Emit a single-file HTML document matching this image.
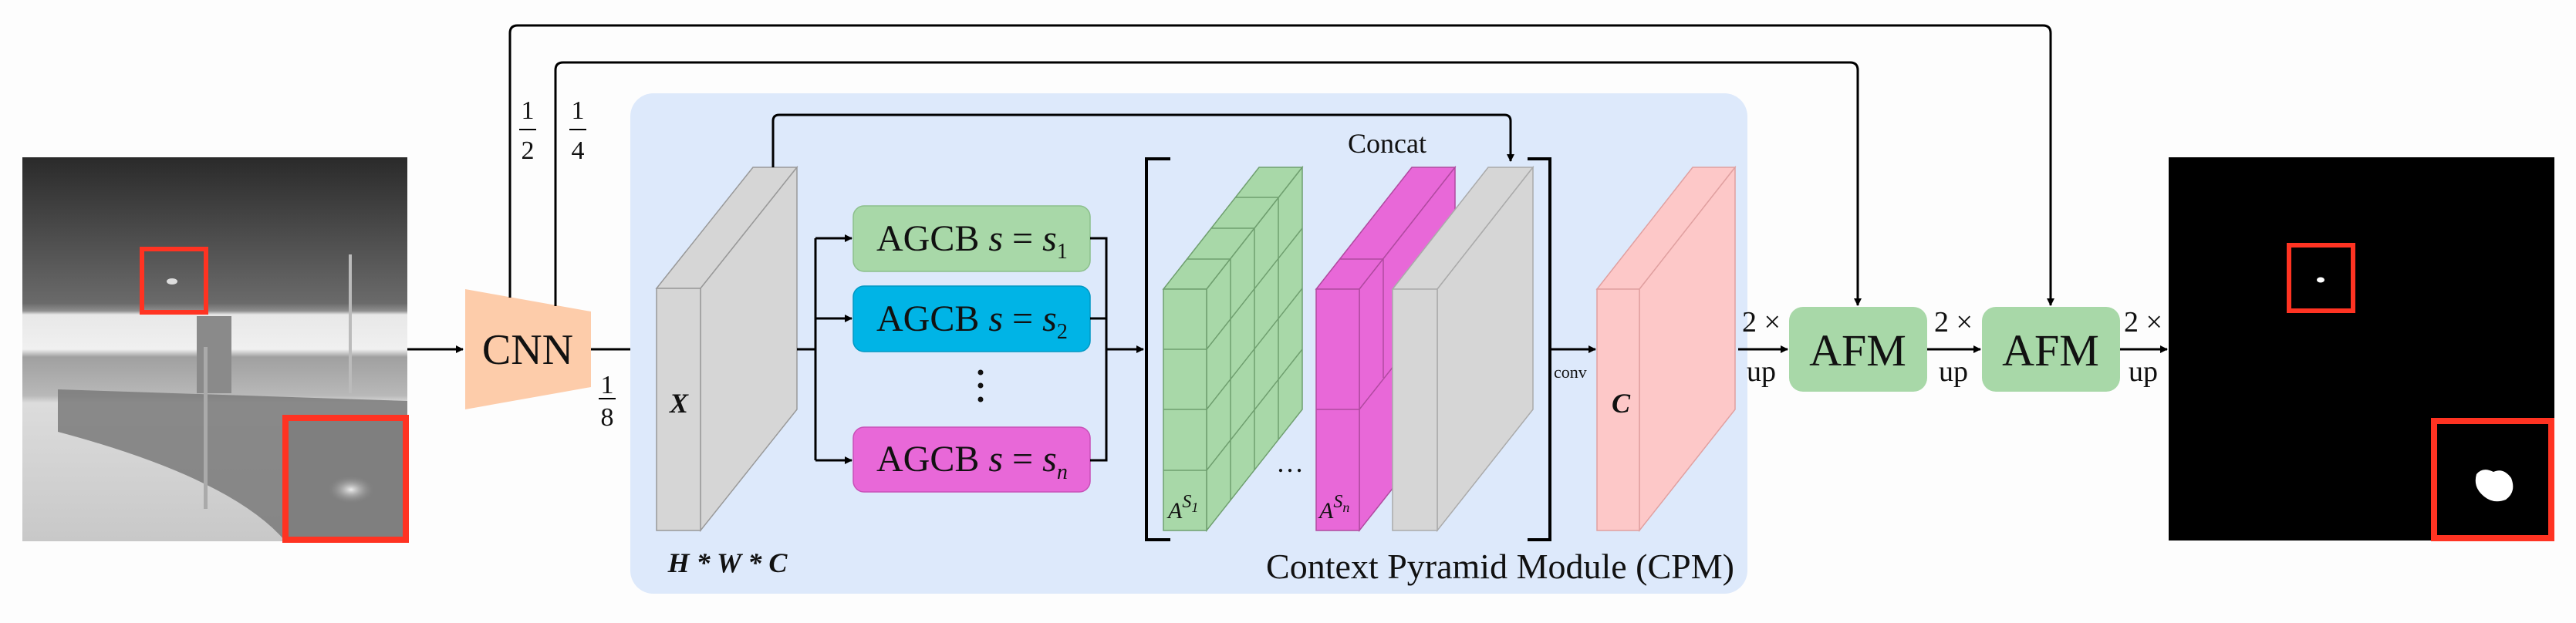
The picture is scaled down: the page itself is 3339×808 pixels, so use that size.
<!DOCTYPE html>
<html><head><meta charset="utf-8"><style>
html,body{margin:0;padding:0;background:#fdfdfd;}
svg{display:block;font-family:"Liberation Serif","Times New Roman",serif;}
svg text{font-family:"Liberation Serif","Times New Roman",serif;fill:#111;}
</style></head><body>
<svg width="3339" height="808" viewBox="0 0 3339 808" xmlns="http://www.w3.org/2000/svg" font-family="Liberation Serif, serif">
<defs>
<marker id="ah" markerWidth="10" markerHeight="10" refX="9" refY="5" orient="auto" markerUnits="userSpaceOnUse" viewBox="0 0 10 10">
<path d="M0,0 L10,5 L0,10 z" fill="#000"/></marker>
<linearGradient id="sky" x1="0" y1="0" x2="0" y2="1">
<stop offset="0" stop-color="#2a2a2a"/><stop offset="0.38" stop-color="#6a6a6a"/><stop offset="0.4" stop-color="#8e8e8e"/>
<stop offset="0.41" stop-color="#e8e8e8"/><stop offset="0.5" stop-color="#f0f0f0"/><stop offset="0.52" stop-color="#a0a0a0"/>
<stop offset="0.62" stop-color="#b8b8b8"/><stop offset="0.64" stop-color="#dcdcdc"/><stop offset="1" stop-color="#c8c8c8"/></linearGradient>
<radialGradient id="blob1"><stop offset="0" stop-color="#eee"/><stop offset="1" stop-color="#888" stop-opacity="0"/></radialGradient>
</defs>
<rect width="3339" height="808" fill="#fdfdfd"/>

<!-- input photo -->
<rect x="29" y="204" width="499" height="498" fill="url(#sky)"/>
<path d="M75,505 L528,520 L528,702 L370,702 Q300,620 75,560 z" fill="#7a7a7a" opacity="0.85"/>
<rect x="255" y="410" width="45" height="100" fill="#8a8a8a"/>
<rect x="264" y="450" width="5" height="210" fill="#aaa"/>
<rect x="452" y="330" width="4" height="180" fill="#bbb"/>
<rect x="184" y="323" width="83" height="82" fill="none" stroke="#ff3322" stroke-width="6"/>
<ellipse cx="223" cy="365" rx="7" ry="4" fill="#ddd"/>
<rect x="370" y="542" width="156" height="158" fill="#7f7f7f" stroke="#ff3322" stroke-width="8"/>
<ellipse cx="455" cy="635" rx="30" ry="18" fill="url(#blob1)"/>

<line x1="528" y1="453" x2="600" y2="453" stroke="#000" stroke-width="3" marker-end="url(#ah)"/>

<!-- CNN -->
<polygon points="603,375 766,404 766,502 603,531" fill="#fdccaa"/>
<text x="684" y="472" font-size="56" text-anchor="middle">CNN</text>
<line x1="766" y1="453" x2="849" y2="453" stroke="#000" stroke-width="3" marker-end="url(#ah)"/>
<text x="787" y="510" font-size="34" text-anchor="middle">1</text>
<line x1="776" y1="517" x2="798" y2="517" stroke="#000" stroke-width="2"/>
<text x="787" y="552" font-size="34" text-anchor="middle">8</text>

<!-- skip lines -->
<path d="M661,386 L661,43 Q661,33 671,33 L2648,33 Q2658,33 2658,43 L2658,396" fill="none" stroke="#000" stroke-width="3" marker-end="url(#ah)"/>
<path d="M720,397 L720,91 Q720,81 730,81 L2398,81 Q2408,81 2408,91 L2408,396" fill="none" stroke="#000" stroke-width="3" marker-end="url(#ah)"/>
<text x="684" y="154" font-size="34" text-anchor="middle">1</text>
<line x1="673" y1="168" x2="695" y2="168" stroke="#000" stroke-width="2"/>
<text x="684" y="206" font-size="34" text-anchor="middle">2</text>
<text x="749" y="154" font-size="34" text-anchor="middle">1</text>
<line x1="738" y1="168" x2="760" y2="168" stroke="#000" stroke-width="2"/>
<text x="749" y="206" font-size="34" text-anchor="middle">4</text>

<!-- CPM panel -->
<rect x="817" y="121" width="1448" height="649" rx="30" fill="#dde9fb"/>

<!-- X block -->
<polygon points="851,374 976,217 1033,217 908,374" fill="#d6d6d6" stroke="#999" stroke-width="1.5"/>
<polygon points="908,374 1033,217 1033,531 908,688" fill="#d6d6d6" stroke="#999" stroke-width="1.5"/>
<rect x="851" y="374" width="57" height="314" fill="#d6d6d6" stroke="#999" stroke-width="1.5"/>
<text x="880" y="535" font-size="36" font-style="italic" font-weight="bold" text-anchor="middle">X</text>
<text x="943" y="742" font-size="36" font-style="italic" font-weight="bold" text-anchor="middle">H * W * C</text>

<path d="M1002,217 L1002,157 Q1002,149 1010,149 L1950,149 Q1958,149 1958,157 L1958,209" fill="none" stroke="#000" stroke-width="3" marker-end="url(#ah)"/>

<!-- branch -->
<line x1="1033" y1="453" x2="1057" y2="453" stroke="#000" stroke-width="3"/>
<line x1="1057" y1="309" x2="1057" y2="597" stroke="#000" stroke-width="3"/>
<line x1="1057" y1="309" x2="1104" y2="309" stroke="#000" stroke-width="3" marker-end="url(#ah)"/>
<line x1="1057" y1="413" x2="1104" y2="413" stroke="#000" stroke-width="3" marker-end="url(#ah)"/>
<line x1="1057" y1="597" x2="1104" y2="597" stroke="#000" stroke-width="3" marker-end="url(#ah)"/>

<!-- AGCB boxes -->
<rect x="1106" y="267" width="307" height="85" rx="14" fill="#a8d8a8" stroke="#8cbf8c" stroke-width="1.5"/>
<rect x="1106" y="371" width="307" height="85" rx="14" fill="#00b4e6" stroke="#0098c4" stroke-width="1.5"/>
<rect x="1106" y="554" width="307" height="84" rx="14" fill="#e868d8" stroke="#c850b8" stroke-width="1.5"/>
<text x="1136" y="325" font-size="48">AGCB <tspan font-style="italic">s</tspan> = <tspan font-style="italic">s</tspan><tspan font-size="28" dy="10">1</tspan></text>
<text x="1136" y="429" font-size="48">AGCB <tspan font-style="italic">s</tspan> = <tspan font-style="italic">s</tspan><tspan font-size="28" dy="10">2</tspan></text>
<text x="1136" y="611" font-size="48">AGCB <tspan font-style="italic">s</tspan> = <tspan font-style="italic">s</tspan><tspan font-size="28" font-style="italic" dy="10">n</tspan></text>
<circle cx="1271" cy="483" r="3.5" fill="#111"/><circle cx="1271" cy="500" r="3.5" fill="#111"/><circle cx="1271" cy="518" r="3.5" fill="#111"/>

<polyline points="1413,309 1434,309 1434,597 1413,597" fill="none" stroke="#000" stroke-width="3"/>
<line x1="1413" y1="413" x2="1434" y2="413" stroke="#000" stroke-width="3"/>
<line x1="1434" y1="453" x2="1482" y2="453" stroke="#000" stroke-width="3" marker-end="url(#ah)"/>

<!-- brackets -->
<polyline points="1517,206 1486,206 1486,700 1517,700" fill="none" stroke="#000" stroke-width="4"/>
<polyline points="1980,206 2009,206 2009,700 1980,700" fill="none" stroke="#000" stroke-width="4"/>
<text x="1798" y="198" font-size="36" text-anchor="middle">Concat</text>

<!-- green grid block -->
<g stroke="#6f9f6f" stroke-width="1.5" fill="#a8d8a8">
<polygon points="1508,375 1632,217 1688,217 1564,375"/>
<polygon points="1564,375 1688,217 1688,531 1564,688"/>
<rect x="1508" y="375" width="56" height="313"/>
</g>
<g stroke="#6f9f6f" stroke-width="1.5" fill="none">
<line x1="1508" y1="453" x2="1564" y2="453"/><line x1="1508" y1="531" x2="1564" y2="531"/><line x1="1508" y1="610" x2="1564" y2="610"/>
<line x1="1564" y1="453" x2="1688" y2="296"/><line x1="1564" y1="531" x2="1688" y2="374"/><line x1="1564" y1="610" x2="1688" y2="453"/>
<line x1="1595" y1="336" x2="1595" y2="649"/><line x1="1626" y1="296" x2="1626" y2="610"/><line x1="1657" y1="256" x2="1657" y2="570"/>
<line x1="1539" y1="336" x2="1595" y2="336"/><line x1="1570" y1="296" x2="1626" y2="296"/><line x1="1601" y1="256" x2="1657" y2="256"/>
</g>
<text x="1514" y="672" font-size="30" font-style="italic">A<tspan font-size="24" dy="-14">S</tspan><tspan font-size="18" dy="6">1</tspan></text>
<text x="1672" y="612" font-size="36" text-anchor="middle">…</text>

<!-- pink block -->
<g stroke="#b04aa0" stroke-width="1.5" fill="#e868d8">
<polygon points="1706,375 1830,217 1886,217 1762,375"/>
<polygon points="1762,375 1886,217 1886,531 1762,688"/>
<rect x="1706" y="375" width="56" height="313"/>
<line x1="1706" y1="531" x2="1762" y2="531" fill="none"/>
<line x1="1762" y1="531" x2="1886" y2="374" fill="none"/>
<line x1="1737" y1="336" x2="1793" y2="336" fill="none"/>
<line x1="1793" y1="336" x2="1793" y2="490" fill="none"/>
</g>
<text x="1710" y="672" font-size="30" font-style="italic">A<tspan font-size="24" dy="-14">S</tspan><tspan font-size="18" font-style="italic" dy="6">n</tspan></text>

<!-- gray block -->
<g stroke="#aaa" stroke-width="1.5" fill="#d6d6d6">
<polygon points="1805,375 1929,217 1987,217 1863,375"/>
<polygon points="1863,375 1987,217 1987,531 1863,688"/>
<rect x="1805" y="375" width="58" height="313"/>
</g>

<line x1="2009" y1="453" x2="2068" y2="453" stroke="#000" stroke-width="3" marker-end="url(#ah)"/>
<text x="2014" y="490" font-size="22">conv</text>

<!-- C block -->
<g stroke="#e0a0a0" stroke-width="1.5" fill="#fdc8c8">
<polygon points="2070,375 2194,217 2249,217 2125,375"/>
<polygon points="2125,375 2249,217 2249,531 2125,688"/>
<rect x="2070" y="375" width="55" height="313"/>
</g>
<text x="2101" y="535" font-size="36" font-style="italic" font-weight="bold" text-anchor="middle">C</text>
<text x="2248" y="750" font-size="46" text-anchor="end">Context Pyramid Module (CPM)</text>

<!-- AFMs -->
<line x1="2253" y1="453" x2="2317" y2="453" stroke="#000" stroke-width="3" marker-end="url(#ah)"/>
<text x="2283" y="430" font-size="38" text-anchor="middle">2 ×</text>
<text x="2283" y="494" font-size="38" text-anchor="middle">up</text>
<rect x="2319" y="398" width="179" height="110" rx="18" fill="#a8d8a8"/>
<text x="2408" y="474" font-size="58" text-anchor="middle">AFM</text>
<line x1="2498" y1="453" x2="2567" y2="453" stroke="#000" stroke-width="3" marker-end="url(#ah)"/>
<text x="2532" y="430" font-size="38" text-anchor="middle">2 ×</text>
<text x="2532" y="494" font-size="38" text-anchor="middle">up</text>
<rect x="2569" y="398" width="179" height="110" rx="18" fill="#a8d8a8"/>
<text x="2658" y="474" font-size="58" text-anchor="middle">AFM</text>
<line x1="2748" y1="453" x2="2809" y2="453" stroke="#000" stroke-width="3" marker-end="url(#ah)"/>
<text x="2778" y="430" font-size="38" text-anchor="middle">2 ×</text>
<text x="2778" y="494" font-size="38" text-anchor="middle">up</text>

<!-- output -->
<rect x="2811" y="204" width="500" height="497" fill="#000"/>
<rect x="2967" y="318" width="83" height="85" fill="none" stroke="#ff3322" stroke-width="6"/>
<ellipse cx="3008" cy="363" rx="5" ry="3.5" fill="#fff"/>
<rect x="3155" y="546" width="152" height="152" fill="#000" stroke="#ff3322" stroke-width="8"/>
<path d="M3210,615 Q3218,605 3232,612 Q3245,606 3255,620 Q3262,638 3248,648 Q3232,654 3220,644 Q3205,632 3210,615 z" fill="#fff"/>
</svg>
</body></html>
